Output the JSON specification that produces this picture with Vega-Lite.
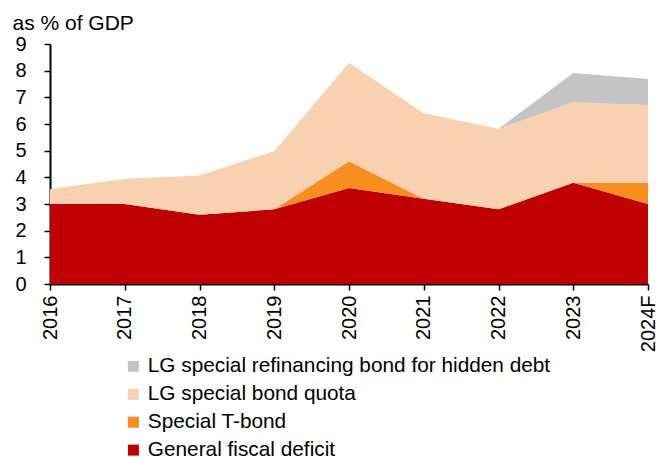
{
  "$schema": "https://vega.github.io/schema/vega-lite/v6.json",
  "autosize": "none",
  "width": 598,
  "height": 240,
  "padding": {"left": 50, "top": 44, "right": 11, "bottom": 173},
  "config": {
    "font": "Liberation Sans",
    "view": {"stroke": null},
    "axis": {"labelFont": "Liberation Sans", "titleFont": "Liberation Sans", "labelColor": "#000", "titleColor": "#000", "domainColor": "#000", "tickColor": "#000", "grid": false}
  },
  "data": {
    "values": [
      {"year": "2016", "series": "General fiscal deficit", "o": 1, "v": 3.0},
      {"year": "2017", "series": "General fiscal deficit", "o": 1, "v": 3.0},
      {"year": "2018", "series": "General fiscal deficit", "o": 1, "v": 2.6},
      {"year": "2019", "series": "General fiscal deficit", "o": 1, "v": 2.8},
      {"year": "2020", "series": "General fiscal deficit", "o": 1, "v": 3.6},
      {"year": "2021", "series": "General fiscal deficit", "o": 1, "v": 3.2},
      {"year": "2022", "series": "General fiscal deficit", "o": 1, "v": 2.8},
      {"year": "2023", "series": "General fiscal deficit", "o": 1, "v": 3.8},
      {"year": "2024F", "series": "General fiscal deficit", "o": 1, "v": 3.0},
      {"year": "2016", "series": "Special T-bond", "o": 2, "v": 0},
      {"year": "2017", "series": "Special T-bond", "o": 2, "v": 0},
      {"year": "2018", "series": "Special T-bond", "o": 2, "v": 0},
      {"year": "2019", "series": "Special T-bond", "o": 2, "v": 0},
      {"year": "2020", "series": "Special T-bond", "o": 2, "v": 1.0},
      {"year": "2021", "series": "Special T-bond", "o": 2, "v": 0},
      {"year": "2022", "series": "Special T-bond", "o": 2, "v": 0},
      {"year": "2023", "series": "Special T-bond", "o": 2, "v": 0},
      {"year": "2024F", "series": "Special T-bond", "o": 2, "v": 0.8},
      {"year": "2016", "series": "LG special bond quota", "o": 3, "v": 0.55},
      {"year": "2017", "series": "LG special bond quota", "o": 3, "v": 0.95},
      {"year": "2018", "series": "LG special bond quota", "o": 3, "v": 1.47},
      {"year": "2019", "series": "LG special bond quota", "o": 3, "v": 2.18},
      {"year": "2020", "series": "LG special bond quota", "o": 3, "v": 3.7},
      {"year": "2021", "series": "LG special bond quota", "o": 3, "v": 3.2},
      {"year": "2022", "series": "LG special bond quota", "o": 3, "v": 3.02},
      {"year": "2023", "series": "LG special bond quota", "o": 3, "v": 3.02},
      {"year": "2024F", "series": "LG special bond quota", "o": 3, "v": 2.91},
      {"year": "2016", "series": "LG special refinancing bond for hidden debt", "o": 4, "v": 0},
      {"year": "2017", "series": "LG special refinancing bond for hidden debt", "o": 4, "v": 0},
      {"year": "2018", "series": "LG special refinancing bond for hidden debt", "o": 4, "v": 0},
      {"year": "2019", "series": "LG special refinancing bond for hidden debt", "o": 4, "v": 0},
      {"year": "2020", "series": "LG special refinancing bond for hidden debt", "o": 4, "v": 0},
      {"year": "2021", "series": "LG special refinancing bond for hidden debt", "o": 4, "v": 0},
      {"year": "2022", "series": "LG special refinancing bond for hidden debt", "o": 4, "v": 0},
      {"year": "2023", "series": "LG special refinancing bond for hidden debt", "o": 4, "v": 1.09},
      {"year": "2024F", "series": "LG special refinancing bond for hidden debt", "o": 4, "v": 0.98}
    ]
  },
  "mark": {"type": "area", "opacity": 1},
  "encoding": {
    "x": {
      "field": "year", "type": "ordinal",
      "scale": {"type": "point", "padding": 0},
      "axis": {"title": null, "labelAngle": -90, "labelFontSize": 20, "tickSize": 6, "labelPadding": 5, "domainWidth": 2, "tickWidth": 1.5, "labelAlign": "right", "labelBaseline": "middle"}
    },
    "y": {
      "field": "v", "type": "quantitative", "stack": "zero",
      "scale": {"domain": [0, 9], "nice": false},
      "axis": {
        "values": [0,1,2,3,4,5,6,7,8,9], "labelFontSize": 20, "tickSize": 6, "tickWidth": 1.5, "labelPadding": 18, "domainWidth": 2,
        "title": "as % of GDP", "titleAngle": 0, "titleFontSize": 21, "titleFontWeight": "normal",
        "titleAlign": "left", "titleBaseline": "alphabetic", "titleX": -38, "titleY": -15
      }
    },
    "color": {
      "field": "series", "type": "nominal",
      "scale": {
        "domain": ["LG special refinancing bond for hidden debt", "LG special bond quota", "Special T-bond", "General fiscal deficit"],
        "range": ["#C4C4C4", "#F8D1B0", "#F98E1E", "#C00000"]
      },
      "legend": {
        "title": null, "orient": "none", "legendX": 73, "legendY": 312,
        "direction": "vertical", "symbolType": "square", "symbolSize": 121, "symbolStrokeWidth": 0,
        "labelFontSize": 20.8, "labelColor": "#000", "labelLimit": 0, "rowPadding": 5.9, "labelOffset": 4, "symbolOpacity": 1
      }
    },
    "order": {"field": "o", "type": "quantitative"}
  }
}
